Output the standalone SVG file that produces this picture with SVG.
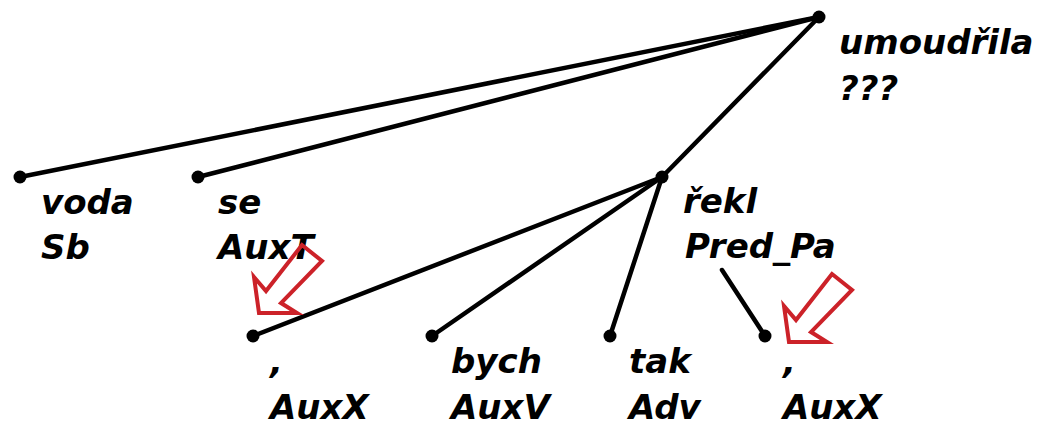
<svg xmlns="http://www.w3.org/2000/svg" width="1037" height="443" viewBox="0 0 1037 443">
<style>
.e{stroke:#000;stroke-width:4.5;stroke-linecap:round;fill:none}
.d{fill:#000}
text{font-family:"DejaVu Sans","Verdana",sans-serif;font-weight:bold;font-style:italic;font-size:34px;fill:#000}
.ar{fill:none;stroke:#cc2229;stroke-width:4;stroke-linejoin:miter}
</style>
<defs>
<polygon id="arrow" class="ar" points="302,245 266,291 254,277 259,313 297,313 281,303 322,261"/>
</defs>
<rect width="1037" height="443" fill="#fff"/>
<g id="connectors">
<line class="e" x1="819" y1="17" x2="20" y2="177"/>
<line class="e" x1="819" y1="17" x2="198" y2="177"/>
<line class="e" x1="819" y1="17" x2="662" y2="177"/>
<line class="e" x1="662" y1="177" x2="253" y2="336"/>
<line class="e" x1="662" y1="177" x2="432" y2="336"/>
<line class="e" x1="662" y1="177" x2="610" y2="336"/>
<line class="e" x1="722" y1="270" x2="765" y2="336"/>
</g>
<g id="n-umoudrila"><circle class="d" cx="819" cy="17" r="6.5"/><text x="839" y="54">umoudřila</text><text x="839" y="100">???</text></g>
<g id="n-voda"><circle class="d" cx="20" cy="177" r="6.5"/><text x="41" y="214">voda</text><text x="41" y="259">Sb</text></g>
<g id="n-se"><circle class="d" cx="198" cy="177" r="6.5"/><text x="218" y="214">se</text><text x="218" y="259">AuxT</text></g>
<g id="n-rekl"><circle class="d" cx="662" cy="177" r="6.5"/><text x="683" y="213">řekl</text><text x="685" y="258">Pred_Pa</text></g>
<g id="n-comma1"><circle class="d" cx="253" cy="336" r="6.5"/><text x="270" y="373">,</text><text x="270" y="419">AuxX</text></g>
<g id="n-bych"><circle class="d" cx="432" cy="336" r="6.5"/><text x="451" y="373">bych</text><text x="451" y="419">AuxV</text></g>
<g id="n-tak"><circle class="d" cx="610" cy="336" r="6.5"/><text x="629" y="373">tak</text><text x="629" y="419">Adv</text></g>
<g id="n-comma2"><circle class="d" cx="765" cy="336" r="6.5"/><text x="783" y="373">,</text><text x="783" y="419">AuxX</text></g>
<g id="marks">
<use href="#arrow"/>
<use href="#arrow" transform="translate(530,29)"/>
</g>
</svg>
